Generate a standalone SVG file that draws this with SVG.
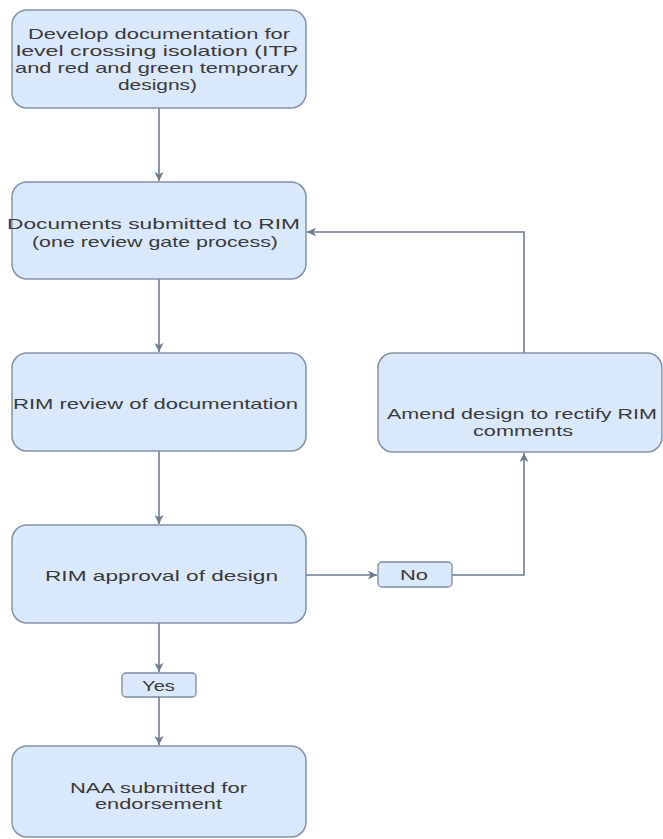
<svg xmlns="http://www.w3.org/2000/svg" width="663" height="839" viewBox="0 0 663 839">
<defs>
<style>
.box{fill:#dae8fc;stroke:#8593a6;stroke-width:1.5}
.lbl{fill:#dae8fc;stroke:#7d8ba0;stroke-width:1.3}
.t{font-family:"Liberation Sans",Arial,sans-serif;font-size:15px;fill:#3a3a3a;}
.c{fill:none;stroke:#6f7d93;stroke-width:1.6}
</style>
<marker id="ah" viewBox="0 0 10 10" refX="10" refY="5" markerWidth="9" markerHeight="9" orient="auto" markerUnits="userSpaceOnUse">
<path d="M0,0 L10,5 L0,10 L2.5,5 Z" fill="#6f7d93"/>
</marker>
</defs>
<rect width="663" height="839" fill="#ffffff"/>
<g id="connectors">
<path class="c" d="M159,108 V181" marker-end="url(#ah)"/>
<path class="c" d="M159,279 V352" marker-end="url(#ah)"/>
<path class="c" d="M159,451 V524" marker-end="url(#ah)"/>
<path class="c" d="M159,623 V672" marker-end="url(#ah)"/>
<path class="c" d="M159,697 V745" marker-end="url(#ah)"/>
<path class="c" d="M306,575 H377" marker-end="url(#ah)"/>
<path class="c" d="M452,575 H524 V453" marker-end="url(#ah)"/>
<path class="c" d="M524,353 V232 H307" marker-end="url(#ah)"/>
</g>
<g id="n1">
<rect class="box" x="12" y="10" width="294" height="98" rx="15"/>
<text class="t" x="159" y="39" text-anchor="middle" textLength="262" lengthAdjust="spacingAndGlyphs">Develop documentation for</text>
<text class="t" x="157" y="56" text-anchor="middle" textLength="282" lengthAdjust="spacingAndGlyphs">level crossing isolation (ITP</text>
<text class="t" x="156.5" y="73" text-anchor="middle" textLength="283" lengthAdjust="spacingAndGlyphs">and red and green temporary</text>
<text class="t" x="157.5" y="90" text-anchor="middle" textLength="79" lengthAdjust="spacingAndGlyphs">designs)</text>
</g>
<g id="n2">
<rect class="box" x="12" y="182" width="294" height="97" rx="15"/>
<text class="t" x="153.5" y="229" text-anchor="middle" textLength="293" lengthAdjust="spacingAndGlyphs">Documents submitted to RIM</text>
<text class="t" x="155" y="247" text-anchor="middle" textLength="246" lengthAdjust="spacingAndGlyphs">(one review gate process)</text>
</g>
<g id="n3">
<rect class="box" x="12" y="353" width="294" height="98" rx="15"/>
<text class="t" x="155.5" y="409" text-anchor="middle" textLength="285" lengthAdjust="spacingAndGlyphs">RIM review of documentation</text>
</g>
<g id="n4">
<rect class="box" x="12" y="525" width="294" height="98" rx="15"/>
<text class="t" x="161.5" y="581" text-anchor="middle" textLength="233" lengthAdjust="spacingAndGlyphs">RIM approval of design</text>
</g>
<g id="n5">
<rect class="box" x="12" y="746" width="294" height="91" rx="15"/>
<text class="t" x="158.5" y="793" text-anchor="middle" textLength="177" lengthAdjust="spacingAndGlyphs">NAA submitted for</text>
<text class="t" x="158.5" y="809" text-anchor="middle" textLength="127" lengthAdjust="spacingAndGlyphs">endorsement</text>
</g>
<g id="n6">
<rect class="box" x="378" y="353" width="284" height="99" rx="15"/>
<text class="t" x="522" y="419" text-anchor="middle" textLength="270" lengthAdjust="spacingAndGlyphs">Amend design to rectify RIM</text>
<text class="t" x="523" y="436" text-anchor="middle" textLength="100" lengthAdjust="spacingAndGlyphs">comments</text>
</g>
<g id="no">
<rect class="lbl" x="378" y="562" width="74" height="25" rx="4"/>
<text class="t" x="414" y="580" text-anchor="middle" textLength="28" lengthAdjust="spacingAndGlyphs">No</text>
</g>
<g id="yes">
<rect class="lbl" x="122" y="673" width="74" height="24" rx="4"/>
<text class="t" x="158.5" y="691" text-anchor="middle" textLength="33" lengthAdjust="spacingAndGlyphs">Yes</text>
</g>
</svg>
